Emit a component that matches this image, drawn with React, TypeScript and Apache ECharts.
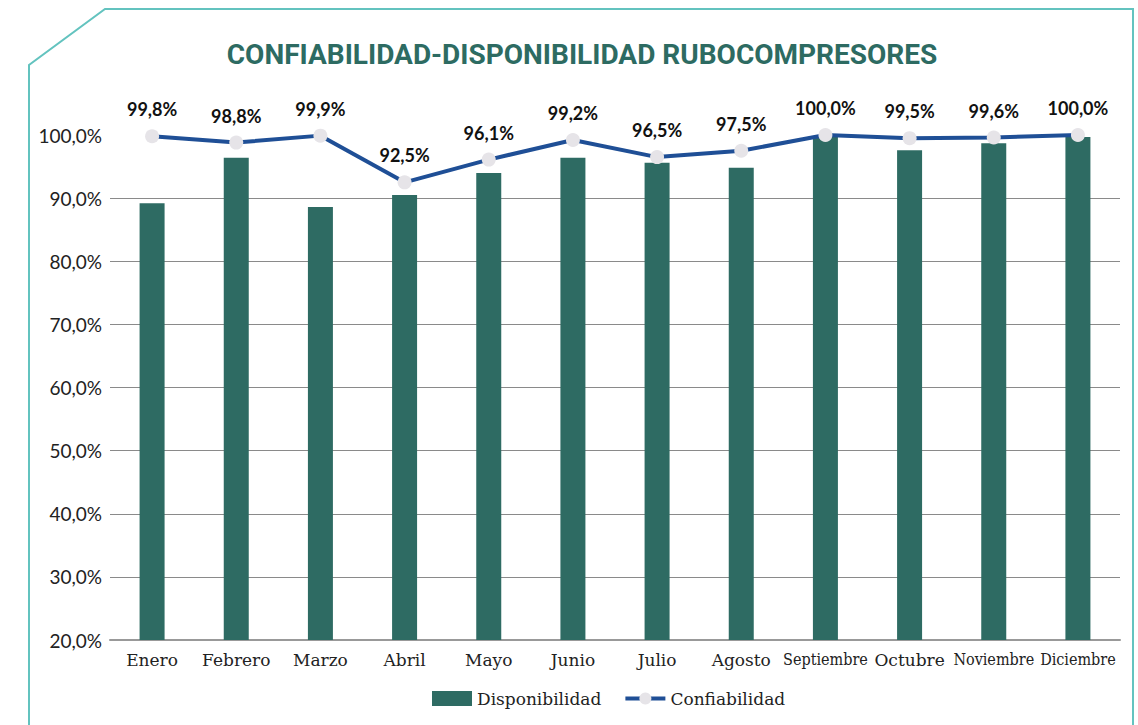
import React, { useEffect, useRef } from "react";
import * as echarts from "echarts";

const months = ["Enero", "Febrero", "Marzo", "Abril", "Mayo", "Junio", "Julio", "Agosto", "Septiembre", "Octubre", "Noviembre", "Diciembre"];
const disponibilidad = [89.2, 96.4, 88.6, 90.5, 94.0, 96.4, 95.6, 94.8, 99.7, 97.6, 98.7, 99.7];
const confiabilidad = [99.8, 98.8, 99.9, 92.5, 96.1, 99.2, 96.5, 97.5, 100.0, 99.5, 99.6, 100.0];
const titleText = "CONFIABILIDAD-DISPONIBILIDAD RUBOCOMPRESORES";

const fmt = (v: number) => v.toFixed(1).replace(".", ",") + "%";

export default function App() {
  const ref = useRef<HTMLDivElement>(null);
  useEffect(() => {
    document.body.style.margin = "0";
    const chart = echarts.init(ref.current!, null, { renderer: "svg" });
    const condensed = ["Septiembre", "Noviembre", "Diciembre"];
    chart.setOption({
      animation: false,
      backgroundColor: "#ffffff",
      title: {
        text: titleText,
        left: 577,
        textAlign: "center",
        top: 35,
        textStyle: { fontFamily: "Roboto", fontWeight: "bold", fontSize: 28, color: "#2d6b62" },
      },
      graphic: [
        {
          type: "polyline",
          shape: { points: [[29, 725], [29, 65], [105, 9], [1133, 9], [1133, 725]] },
          style: { stroke: "#63c3bf", lineWidth: 2, fill: "none" },
          silent: true,
        },
      ],
      grid: { left: 110, right: 18, top: 135, bottom: 85, containLabel: false },
      legend: {
        bottom: 13,
        left: 427,
        itemGap: 22,
        itemWidth: 40,
        itemHeight: 15,
        textStyle: { fontFamily: "DejaVu Serif", fontSize: 17, color: "#222" },
        data: [
          { name: "Disponibilidad", icon: "rect" },
          { name: "Confiabilidad", lineStyle: { width: 4 } },
        ],
      },
      xAxis: {
        type: "category",
        data: months,
        axisLine: { lineStyle: { color: "#999", width: 2 } },
        axisTick: { show: false },
        axisLabel: {
          interval: 0,
          margin: 11,
          fontFamily: "DejaVu Serif",
          fontSize: 17,
          color: "#222",
          formatter: (v: string) => (condensed.includes(v) ? "{c|" + v + "}" : v),
          rich: { c: { fontFamily: "DejaVu Serif Condensed", fontSize: 16, color: "#222" } },
        },
      },
      yAxis: {
        type: "value",
        min: 20,
        max: 100,
        interval: 10,
        axisLine: { show: false },
        axisTick: { show: false },
        splitLine: { show: true, showMaxLine: false, lineStyle: { color: "#8a8a8a", width: 1 } },
        axisLabel: {
          margin: 8,
          fontFamily: "Lato",
          fontSize: 19,
          color: "#222",
          formatter: (v: number) => fmt(v),
        },
      },
      series: [
        {
          name: "Disponibilidad",
          type: "bar",
          data: disponibilidad,
          barWidth: 25,
          itemStyle: { color: "#2e6b63" },
        },
        {
          name: "Confiabilidad",
          type: "line",
          data: confiabilidad,
          symbol: "circle",
          symbolSize: 14,
          z: 5,
          lineStyle: { color: "#1f4f96", width: 4 },
          itemStyle: { color: "#e6e4e8", borderWidth: 0 },
          label: {
            show: true,
            position: "top",
            distance: 11,
            fontFamily: "Lato",
            fontWeight: "bold",
            fontSize: 18,
            color: "#111",
            formatter: (p: any) => fmt(p.value),
          },
        },
      ],
    });
    return () => chart.dispose();
  }, []);
  return <div ref={ref} style={{ width: 1138, height: 725 }} />;
}
